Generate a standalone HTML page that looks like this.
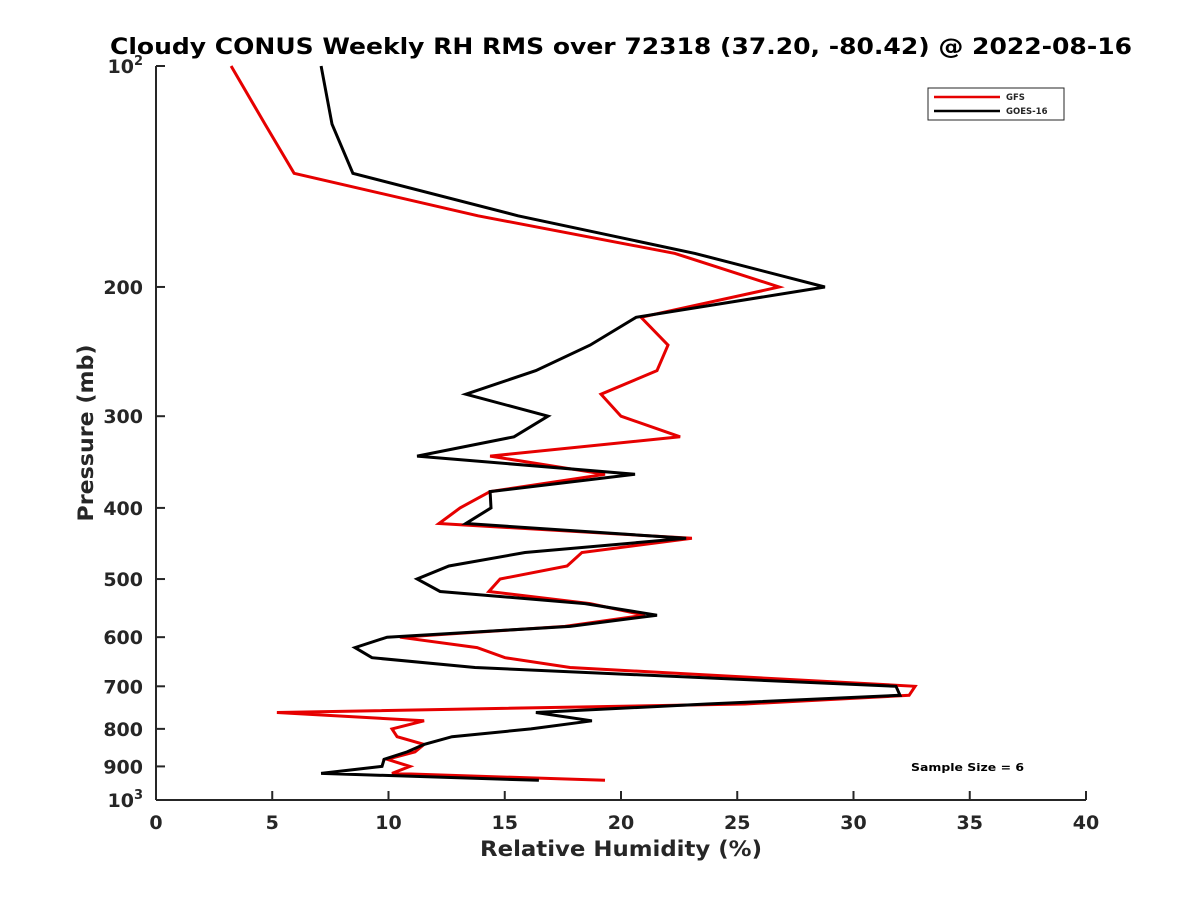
<!DOCTYPE html>
<html><head><meta charset="utf-8"><style>
body{margin:0;background:#fff}
svg text{font-family:"DejaVu Sans","Liberation Sans",sans-serif;font-weight:bold;fill:#262626}
</style></head><body>
<svg id="chart" width="1200" height="900" viewBox="0 0 1200 900" xmlns="http://www.w3.org/2000/svg">
<rect width="1200" height="900" fill="#fff"/>
<text x="621" y="54" font-size="22" text-anchor="middle" textLength="1022" lengthAdjust="spacingAndGlyphs" style="fill:#000">Cloudy CONUS Weekly RH RMS over 72318 (37.20, -80.42) @ 2022-08-16</text>
<g id="axes"></g>
<g id="series"></g>
<g>
<rect x="928" y="88" width="136" height="32" fill="#fff" stroke="#262626" stroke-width="1"/>
<line x1="934" y1="97" x2="1000" y2="97" stroke="#e60000" stroke-width="2.5"/>
<text x="1006" y="100" font-size="8.5">GFS</text>
<line x1="934" y1="111" x2="1000" y2="111" stroke="#000" stroke-width="2.5"/>
<text x="1006" y="114" font-size="8.5">GOES-16</text>
</g>
<text x="911" y="771" font-size="11" textLength="113" lengthAdjust="spacingAndGlyphs" style="fill:#000">Sample Size = 6</text>
<text x="621" y="856" font-size="21" text-anchor="middle" textLength="282" lengthAdjust="spacingAndGlyphs">Relative Humidity (%)</text>
<text x="0" y="0" font-size="21" text-anchor="middle" textLength="177" lengthAdjust="spacingAndGlyphs" transform="translate(93,433) rotate(-90)">Pressure (mb)</text>
</svg>
<script>
const pressure=[100,120,140,160,180,200,220,240,260,280,300,320,340,360,380,400,420,440,460,480,500,520,540,560,580,600,620,640,660,700,720,740,760,780,800,820,840,860,880,900,920,940];
const gfs=[3.23,4.69,5.94,13.85,22.32,26.80,20.86,22.02,21.55,19.14,20.0,22.54,14.37,19.31,14.37,13.08,12.17,23.05,18.32,17.68,14.80,14.32,18.67,21.03,17.59,10.49,13.81,15.01,17.81,32.65,32.39,25.33,5.20,11.53,10.15,10.37,11.53,11.14,9.94,10.92,10.15,19.31];
const goes=[7.10,7.57,8.47,15.57,23.18,28.77,20.65,18.67,16.34,13.33,16.86,15.40,11.23,20.60,14.37,14.41,13.33,22.80,15.87,12.60,11.23,12.22,18.45,21.55,17.81,9.94,8.56,9.29,13.72,31.83,32.0,23.70,16.34,18.75,16.13,12.73,11.53,10.80,9.81,9.72,7.10,16.47];
const xTicks=[0,5,10,15,20,25,30,35,40];
const yTicks=[100,200,300,400,500,600,700,800,900,1000];
const L=156,R=1086,T=66,B=800;
const xs=v=>L+(v-0)/(40-0)*(R-L);
const ys=p=>T+Math.log10(p/100)*(B-T);
const NS="http://www.w3.org/2000/svg";
function mk(tag,attrs,parent){const e=document.createElementNS(NS,tag);for(const k in attrs)e.setAttribute(k,attrs[k]);parent.appendChild(e);return e;}
const ax=document.getElementById('axes');
let e=mk('line',{x1:L,y1:B,x2:R,y2:B,stroke:'#262626','stroke-width':2},ax);


e=mk('line',{x1:L,y1:T,x2:L,y2:B,stroke:'#262626','stroke-width':2},ax);


xTicks.forEach(v=>{
  const x=xs(v);
  let t=mk('line',{x1:x,y1:B,x2:x,y2:B-9,stroke:'#262626','stroke-width':2},ax);
  
  
  let tx=mk('text',{x:x,y:B+29,'font-size':19,'text-anchor':'middle'},ax);
  tx.textContent=v;
  
  
});
yTicks.forEach(p=>{
  const y=ys(p);
  let t=mk('line',{x1:L,y1:y,x2:L+9,y2:y,stroke:'#262626','stroke-width':2},ax);
  
  
  let tx=mk('text',{x:143,y:y+7,'font-size':19,'text-anchor':'end'},ax);
  if(p===100||p===1000){
    const s=mk('tspan',{},tx);s.textContent='10';
    const sp=mk('tspan',{dy:-8,'font-size':13},tx);sp.textContent=(p===100?'2':'3');
  } else tx.textContent=p;
  
  
});
const sg=document.getElementById('series');
function line(vals,color,name){
  const pts=vals.map((v,i)=>xs(v).toFixed(1)+','+ys(pressure[i]).toFixed(1)).join(' ');
  const pl=mk('polyline',{points:pts,fill:'none',stroke:color,'stroke-width':3,'stroke-linejoin':'miter'},sg);
  
  
}
line(gfs,'#e60000','gfs-line');
line(goes,'#000000','goes16-line');
</script>
</body></html>
